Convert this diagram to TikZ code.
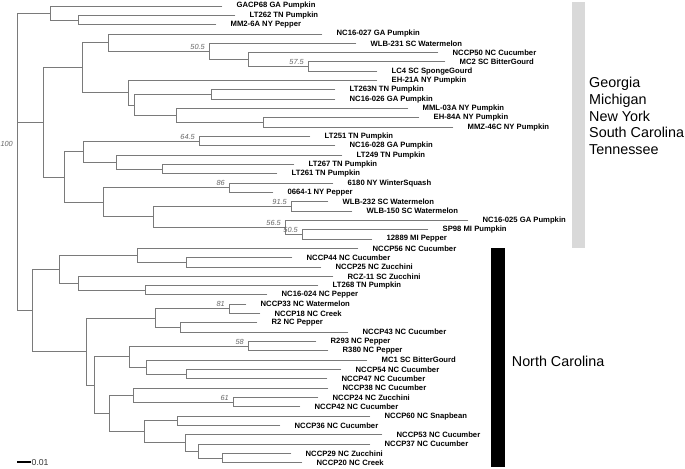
\documentclass[tikz,border=0pt]{standalone}
\usepackage{fontspec}
\setmainfont{Liberation Sans}
\definecolor{treegray}{HTML}{7A7A7A}
\definecolor{bootgray}{HTML}{666666}
\definecolor{bargray}{HTML}{D9D9D9}

\begin{document}
\begin{tikzpicture}[x=1bp, y=-1bp,
  branch/.style={draw=treegray, line width=0.9bp, line cap=rect},
  leaf/.style={anchor=west, inner sep=0.5bp, xshift=14bp, font=\bfseries\fontsize{7.7}{8}\selectfont},
  boot/.style={anchor=base east, inner sep=0pt, xshift=-4bp, yshift=2.1bp, text=bootgray, font=\itshape\fontsize{7.4}{8}\selectfont},
  region/.style={anchor=west, inner sep=0pt, align=left, font=\fontsize{14.4}{16.65}\selectfont}
]
\useasboundingbox (0,0) rectangle (685,469);

% leaves, top to bottom
\foreach \tip/\lab [count=\i] in {
  222/GACP68 GA Pumpkin, 235/LT262 TN Pumpkin, 216/MM2-6A NY Pepper,
  322/NC16-027 GA Pumpkin, 356/WLB-231 SC Watermelon, 438/NCCP50 NC Cucumber,
  445/MC2 SC BitterGourd, 377/LC4 SC SpongeGourd, 377/EH-21A NY Pumpkin,
  335/LT263N TN Pumpkin, 335/NC16-026 GA Pumpkin, 408/MML-03A NY Pumpkin,
  419/EH-84A NY Pumpkin, 453/MMZ-46C NY Pumpkin, 310/LT251 TN Pumpkin,
  335/NC16-028 GA Pumpkin, 342/LT249 TN Pumpkin, 294/LT267 TN Pumpkin,
  277/LT261 TN Pumpkin, 333/6180 NY WinterSquash, 273/0664-1 NY Pepper,
  328/WLB-232 SC Watermelon, 352/WLB-150 SC Watermelon, 468/NC16-025 GA Pumpkin,
  428/SP98 MI Pumpkin, 372/12889 MI Pepper, 358/NCCP56 NC Cucumber,
  292/NCCP44 NC Cucumber, 321/NCCP25 NC Zucchini, 333/RCZ-11 SC Zucchini,
  318/LT268 TN Pumpkin, 267/NC16-024 NC Pepper, 246/NCCP33 NC Watermelon,
  260/NCCP18 NC Creek, 257/R2 NC Pepper, 348/NCCP43 NC Cucumber,
  316/R293 NC Pepper, 328/R380 NC Pepper, 367/MC1 SC BitterGourd,
  341/NCCP54 NC Cucumber, 327/NCCP47 NC Cucumber, 328/NCCP38 NC Cucumber,
  318/NCCP24 NC Zucchini, 300/NCCP42 NC Cucumber, 370/NCCP60 NC Snapbean,
  280/NCCP36 NC Cucumber, 382/NCCP53 NC Cucumber, 370/NCCP37 NC Cucumber,
  291/NCCP29 NC Zucchini, 302/NCCP20 NC Creek}{
  \coordinate (l\i) at (\tip,{6+(\i-1)*9.32});
  \node[leaf] (t\i) at (l\i) {\lab};
}

% inner nodes
\coordinate (root) at (17,148.6);
\coordinate (a1) at (50,12.99);
\coordinate (a2) at (78,19.98);
\coordinate (b43) at (43,122.36);
\coordinate (b82) at (82,67.75);
\coordinate (b108) at (108,42.70);
\coordinate (b209) at (209,51.44);
\coordinate (b248) at (248,59.59);
\coordinate (b308) at (308,66.58);
\coordinate (b128) at (128,92.79);
\coordinate (b134) at (134,105.03);
\coordinate (b211) at (211,94.54);
\coordinate (b176) at (176,115.51);
\coordinate (b263) at (263,122.50);
\coordinate (c64) at (64,176.97);
\coordinate (c83) at (83,151.63);
\coordinate (c199) at (199,141.14);
\coordinate (c116) at (116,162.11);
\coordinate (c162) at (162,169.10);
\coordinate (c103) at (103,202.31);
\coordinate (c229) at (229,187.74);
\coordinate (c153) at (153,216.87);
\coordinate (c291) at (291,206.38);
\coordinate (c285) at (285,227.35);
\coordinate (c302) at (302,234.34);
\coordinate (d32) at (32,310.47);
\coordinate (d59) at (59,269.29);
\coordinate (d137) at (137,255.31);
\coordinate (d186) at (186,262.30);
\coordinate (d78) at (78,283.27);
\coordinate (d145) at (145,290.26);
\coordinate (d86) at (86,351.65);
\coordinate (d155) at (155,318.22);
\coordinate (d229) at (229,308.90);
\coordinate (d180) at (180,327.54);
\coordinate (d94) at (94,385.07);
\coordinate (d129) at (129,356.67);
\coordinate (d248) at (248,346.18);
\coordinate (d146) at (146,367.15);
\coordinate (e186) at (186,374.14);
\coordinate (d109) at (109,413.46);
\coordinate (d133) at (133,395.11);
\coordinate (d233) at (233,402.10);
\coordinate (d144) at (144,431.81);
\coordinate (d177) at (177,420.74);
\coordinate (d185) at (185,442.88);
\coordinate (d198) at (198,451.03);
\coordinate (d222) at (222,458.02);

% branches
\draw[branch] (root) |- (a1) (root) |- (b43) (root) |- (d32);
\draw[branch] (a1) |- (l1) (a1) |- (a2);
\draw[branch] (a2) |- (l2) (a2) |- (l3);
\draw[branch] (b43) |- (b82) (b43) |- (c64);
\draw[branch] (b82) |- (b108) (b82) |- (b128);
\draw[branch] (b108) |- (l4) (b108) |- (b209);
\draw[branch] (b209) |- (l5) (b209) |- (b248);
\draw[branch] (b248) |- (l6) (b248) |- (b308);
\draw[branch] (b308) |- (l7) (b308) |- (l8);
\draw[branch] (b128) |- (l9) (b128) |- (b134);
\draw[branch] (b134) |- (b211) (b134) |- (b176);
\draw[branch] (b211) |- (l10) (b211) |- (l11);
\draw[branch] (b176) |- (l12) (b176) |- (b263);
\draw[branch] (b263) |- (l13) (b263) |- (l14);
\draw[branch] (c64) |- (c83) (c64) |- (c103);
\draw[branch] (c83) |- (c199) (c83) |- (c116);
\draw[branch] (c199) |- (l15) (c199) |- (l16);
\draw[branch] (c116) |- (l17) (c116) |- (c162);
\draw[branch] (c162) |- (l18) (c162) |- (l19);
\draw[branch] (c103) |- (c229) (c103) |- (c153);
\draw[branch] (c229) |- (l20) (c229) |- (l21);
\draw[branch] (c153) |- (c291) (c153) |- (c285);
\draw[branch] (c291) |- (l22) (c291) |- (l23);
\draw[branch] (c285) |- (l24) (c285) |- (c302);
\draw[branch] (c302) |- (l25) (c302) |- (l26);
\draw[branch] (d32) |- (d59) (d32) |- (d86);
\draw[branch] (d59) |- (d137) (d59) |- (d78);
\draw[branch] (d137) |- (l27) (d137) |- (d186);
\draw[branch] (d186) |- (l28) (d186) |- (l29);
\draw[branch] (d78) |- (l30) (d78) |- (d145);
\draw[branch] (d145) |- (l31) (d145) |- (l32);
\draw[branch] (d86) |- (d155) (d86) |- (d94);
\draw[branch] (d155) |- (d229) (d155) |- (d180);
\draw[branch] (d229) |- (l33) (d229) |- (l34);
\draw[branch] (d180) |- (l35) (d180) |- (l36);
\draw[branch] (d94) |- (d129) (d94) |- (d109);
\draw[branch] (d129) |- (d248) (d129) |- (d146);
\draw[branch] (d248) |- (l37) (d248) |- (l38);
\draw[branch] (d146) |- (l39) (d146) |- (e186);
\draw[branch] (e186) |- (l40) (e186) |- (l41);
\draw[branch] (d109) |- (d133) (d109) |- (d144);
\draw[branch] (d133) |- (l42) (d133) |- (d233);
\draw[branch] (d233) |- (l43) (d233) |- (l44);
\draw[branch] (d144) |- (d177) (d144) |- (d185);
\draw[branch] (d177) |- (l45) (d177) |- (l46);
\draw[branch] (d185) |- (l47) (d185) |- (d198);
\draw[branch] (d198) |- (l48) (d198) |- (d222);
\draw[branch] (d222) |- (l49) (d222) |- (l50);

% bootstrap values
\node[boot] (bs100) at (root) {100};
\node[boot] (bs209) at (b209) {50.5};
\node[boot] (bs308) at (b308) {57.5};
\node[boot] (bs199) at (c199) {64.5};
\node[boot] (bs229) at (c229) {86};
\node[boot] (bs291) at (c291) {91.5};
\node[boot] (bs285) at (c285) {56.5};
\node[boot] (bs302) at (c302) {50.5};
\node[boot] (bs229b) at (d229) {81};
\node[boot] (bs248) at (d248) {58};
\node[boot] (bs233) at (d233) {61};

% region bars and labels
\fill[bargray] (571.7,1.7) rectangle (585,247.7);
\fill[black] (491,248.3) rectangle (505,466.7);
\node[region] (gaset) at (589,116) {Georgia\\Michigan\\New York\\South Carolina\\Tennessee};
\node[region] (ncset) at (511.7,361) {North Carolina};

% scale bar
\coordinate (sb0) at (17,462.3);
\coordinate (sb1) at (31,462.3);
\draw[line width=2.2bp] (sb0) -- (sb1);
\node[anchor=west, inner sep=0.5bp, text=black!80, font=\fontsize{8.7}{9}\selectfont] (scale) at (sb1) {0.01};
\end{tikzpicture}
\end{document}
